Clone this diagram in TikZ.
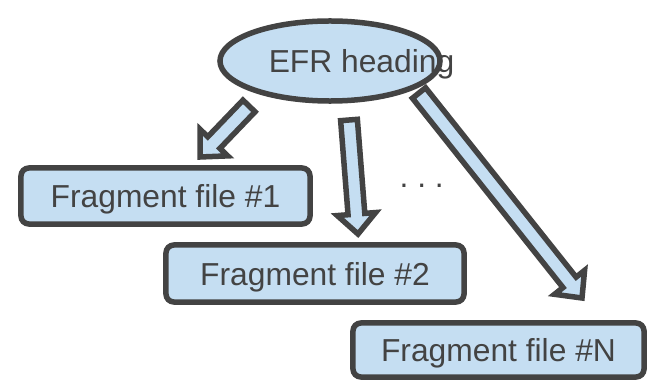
\documentclass[tikz,border=0pt]{standalone}
\usepackage{fontspec}
\setmainfont{Liberation Sans}
\usepackage{tikz}
\usetikzlibrary{shapes.geometric, calc}
\definecolor{fraglight}{RGB}{197,222,242}
\definecolor{fragdark}{RGB}{67,67,67}
% block arrow from #1 to #2
\newcommand{\fatarrow}[2]{%
  \coordinate (neck) at ($(#2)!0.5cm!(#1)$);
  \draw[fat] ($(#1)!0.21cm!90:(#2)$) -- ($(neck)!0.21cm!-90:(#1)$) -- ($(neck)!0.48cm!-90:(#1)$) -- (#2)
    -- ($(neck)!0.48cm!90:(#1)$) -- ($(neck)!0.21cm!90:(#1)$) -- ($(#1)!0.21cm!-90:(#2)$) -- cycle;
}

\begin{document}
\begin{tikzpicture}[
    x=0.025cm, y=-0.025cm,
    every node/.style={text=fragdark, text depth=0pt, font=\fontsize{22.6}{27}\selectfont},
    frag/.style={rectangle, draw=fragdark, fill=fraglight, line width=0.1375cm, rounded corners=0.2cm, inner sep=0pt},
    head/.style={ellipse, draw=fragdark, fill=fraglight, line width=0.1375cm, inner sep=0pt, minimum width=5.5cm, minimum height=2cm},
    fat/.style={draw=fragdark, fill=fraglight, line width=0.1375cm, line join=miter},
]
\useasboundingbox (0,0) rectangle (650,380);

\node[head] (efr) at (330,61) {};
\node (efrtxt) at (361.5,61) {EFR heading};

\node[frag, minimum width=7.225cm, minimum height=1.4cm] (frag1) at (165.5,196) {Fragment file \#1};
\node[frag, minimum width=7.45cm, minimum height=1.425cm] (frag2) at (315,273.5) {Fragment file \#2};
\node[frag, minimum width=7.275cm, minimum height=1.35cm] (fragN) at (498.5,350) {Fragment file \#N};
\node (dots) at (421.7,185.5) {.\ .\ .};

\coordinate (a1) at (249,106);
\coordinate (t1) at (200,157);
\coordinate (a2) at (349,120);
\coordinate (t2) at (358,234);
\coordinate (a3) at (419,93);
\coordinate (t3) at (582,298);
\fatarrow{a1}{t1}
\fatarrow{a2}{t2}
\fatarrow{a3}{t3}
\end{tikzpicture}
\end{document}
